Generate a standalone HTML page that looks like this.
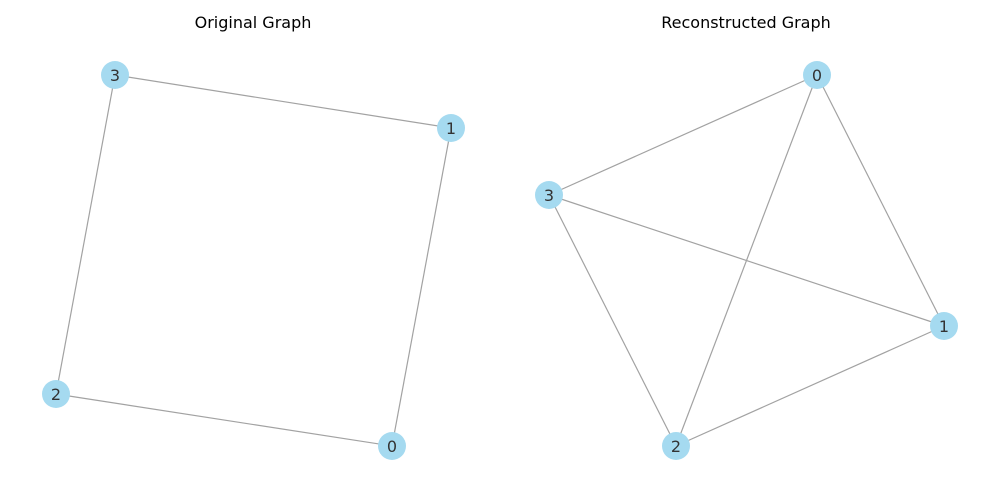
<!DOCTYPE html>
<html><head><meta charset="utf-8"><style>
html,body{margin:0;padding:0;background:#fff;}
svg{display:block;}
text{font-family:"DejaVu Sans","Liberation Sans",sans-serif;}
</style></head><body>
<svg width="1000" height="500" viewBox="0 0 1000 500" xmlns="http://www.w3.org/2000/svg">
<rect width="1000" height="500" fill="#fff"/>
<text x="253" y="28" font-size="16" text-anchor="middle" fill="#000">Original Graph</text>
<text x="746" y="28" font-size="16" text-anchor="middle" fill="#000">Reconstructed Graph</text>
<g stroke="#a2a2a2" stroke-width="1.2" fill="none">
<line x1="115" y1="75" x2="451" y2="128"/>
<line x1="115" y1="75" x2="56" y2="394"/>
<line x1="451" y1="128" x2="392" y2="446"/>
<line x1="56" y1="394" x2="392" y2="446"/>
<line x1="817" y1="75" x2="549" y2="195"/>
<line x1="817" y1="75" x2="944" y2="326"/>
<line x1="817" y1="75" x2="676" y2="446"/>
<line x1="549" y1="195" x2="944" y2="326"/>
<line x1="549" y1="195" x2="676" y2="446"/>
<line x1="676" y1="446" x2="944" y2="326"/>
</g>
<g fill="#a5daf0">
<circle cx="115" cy="75" r="14"/><circle cx="451" cy="128" r="14"/>
<circle cx="56" cy="394" r="14"/><circle cx="392" cy="446" r="14"/>
<circle cx="817" cy="75" r="14"/><circle cx="549" cy="195" r="14"/>
<circle cx="944" cy="326" r="14"/><circle cx="676" cy="446" r="14"/>
</g>
<g font-size="16" text-anchor="middle" fill="#333">
<text x="115" y="81">3</text><text x="451" y="134">1</text>
<text x="56" y="400">2</text><text x="392" y="452">0</text>
<text x="817" y="81">0</text><text x="549" y="201">3</text>
<text x="944" y="332">1</text><text x="676" y="452">2</text>
</g>
</svg>
</body></html>
